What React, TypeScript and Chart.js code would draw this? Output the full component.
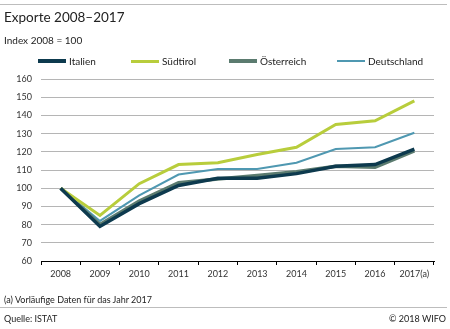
import React, { useEffect, useRef } from "react";
import { Chart, registerables } from "chart.js";

Chart.register(...registerables);

const years = ["2008", "2009", "2010", "2011", "2012", "2013", "2014", "2015", "2016", "2017(a)"];
const italien = [100, 79, 91.5, 101.5, 105.5, 105.5, 108, 112, 113, 121.5];
const suedtirol = [100, 85, 102.5, 113, 114, 118.5, 122.5, 135, 137, 148];
const oesterreich = [100, 80, 93, 103, 105, 107, 109, 112, 111.5, 120.5];
const deutschland = [100, 82, 96, 107.5, 110.5, 110.5, 114, 121.5, 122.5, 130.5];

const FONT = "Lato, 'Open Sans', sans-serif";

const series = [
  { label: "Italien", data: italien, color: "#0d3a4e", width: 3.5 },
  { label: "Südtirol", data: suedtirol, color: "#b8cd3c", width: 3 },
  { label: "Österreich", data: oesterreich, color: "#5b7b6f", width: 3.5 },
  { label: "Deutschland", data: deutschland, color: "#4f98b1", width: 2 },
];

const legendX = [38, 131, 229, 337];

export default function App() {
  const ref = useRef<HTMLCanvasElement>(null);
  useEffect(() => {
    if (!ref.current) return;
    const chart = new Chart(ref.current, {
      type: "line",
      data: {
        labels: years,
        datasets: series.map((s) => ({
          label: s.label,
          data: s.data,
          borderColor: s.color,
          backgroundColor: s.color,
          borderWidth: s.width,
          pointRadius: 0,
          tension: 0,
          fill: false,
        })),
      },
      options: {
        animation: false,
        responsive: false,
        events: [],
        layout: { padding: { left: 0, right: 16, top: 79, bottom: 48 } },
        plugins: { legend: { display: false }, tooltip: { enabled: false } },
        scales: {
          x: {
            offset: true,
            grid: {
              offset: true,
              drawOnChartArea: false,
              drawTicks: true,
              tickLength: 4,
              color: "#000",
            },
            border: { display: true, color: "#000", width: 1 },
            ticks: { color: "#333", font: { family: FONT, size: 9 }, padding: 4, maxRotation: 0, autoSkip: false },
            afterFit: (a: any) => {
              a.height = 20;
            },
          },
          y: {
            min: 60,
            max: 160,
            grid: { color: "#b5b5b5", lineWidth: 1, drawTicks: false },
            border: { display: false },
            ticks: { stepSize: 10, color: "#333", font: { family: FONT, size: 9 }, padding: 9 },
            afterFit: (a: any) => {
              a.width = 41;
            },
          },
        },
      },
    });
    return () => chart.destroy();
  }, []);

  const text: React.CSSProperties = { position: "absolute", fontFamily: FONT, color: "#222", whiteSpace: "nowrap" };

  return (
    <div style={{ position: "fixed", left: 0, top: 0, width: 450, height: 329, background: "#fff", overflow: "hidden" }}>
      <canvas ref={ref} width={450} height={329} style={{ position: "absolute", left: 0, top: 0 }} />
      <div style={{ position: "absolute", left: 0, top: 4, width: 447, height: 1, background: "#bdbdbd" }} />
      <div style={{ ...text, left: 4, top: 8, fontSize: 13.5, lineHeight: "18px" }}>Exporte 2008–2017</div>
      <div style={{ ...text, left: 4, top: 33, fontSize: 10, lineHeight: "14px" }}>Index 2008 = 100</div>
      {series.map((s, i) => (
        <div key={s.label} style={{ position: "absolute", left: legendX[i], top: 54, height: 14 }}>
          <div style={{ position: "absolute", left: 0, top: 7 - s.width / 2, width: 28, height: s.width, background: s.color }} />
          <div style={{ ...text, left: 31, top: 0, fontSize: 10, lineHeight: "14px" }}>{s.label}</div>
        </div>
      ))}
      <div style={{ ...text, left: 4, top: 293, fontSize: 9, lineHeight: "13px" }}>(a) Vorläufige Daten für das Jahr 2017</div>
      <div style={{ position: "absolute", left: 0, top: 307, width: 447, height: 1, background: "#bdbdbd" }} />
      <div style={{ ...text, left: 4, top: 312, fontSize: 9, lineHeight: "13px" }}>Quelle: ISTAT</div>
      <div style={{ ...text, right: 4, top: 312, fontSize: 9, lineHeight: "13px" }}>© 2018 WIFO</div>
    </div>
  );
}
